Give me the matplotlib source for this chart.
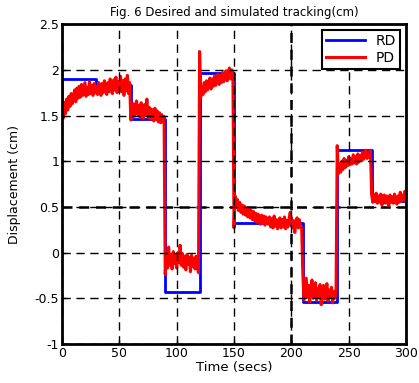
import numpy as np
import matplotlib
matplotlib.use("Agg")
import matplotlib.pyplot as plt

plt.rcParams['font.family'] = ['DejaVu Sans']

# desired (RD) step reference
rd_t = [0, 30, 60, 90, 120, 150, 210, 240, 270, 300]
rd_y = [1.90, 1.83, 1.46, -0.43, 1.97, 0.32, -0.54, 1.12, 0.56, 0.56]

# simulated (PD) response, one sample per second, t = 0..300
pd_0 = [1.88, 1.47, 1.64, 1.52, 1.68, 1.56, 1.71, 1.60, 1.74, 1.63, 1.70, 1.78, 1.65, 1.80, 1.69,
        1.82, 1.70, 1.84, 1.72, 1.79, 1.86, 1.71, 1.81, 1.73, 1.87, 1.74, 1.83, 1.72, 1.85, 1.75]
pd_30 = [1.82, 1.73, 1.86, 1.76, 1.72, 1.85, 1.75, 1.88, 1.77, 1.73, 1.86, 1.76, 1.90, 1.77, 1.74,
         1.89, 1.78, 1.92, 1.75, 1.87, 1.79, 1.93, 1.76, 1.88, 1.72, 1.90, 1.77, 1.94, 1.74, 1.86]
pd_60 = [1.45, 1.56, 1.63, 1.49, 1.60, 1.66, 1.51, 1.61, 1.48, 1.64, 1.52, 1.47, 1.62, 1.50, 1.68,
         1.48, 1.59, 1.46, 1.57, 1.49, 1.44, 1.58, 1.46, 1.55, 1.43, 1.53, 1.42, 1.51, 1.43, 1.49]
pd_90 = [-0.24, -0.05, -0.17, 0.06, -0.14, -0.02, -0.18, 0.01, -0.12, -0.03, -0.17, 0.00, -0.11, 0.08, -0.14,
         -0.01, -0.16, -0.04, -0.19, -0.02, -0.13, -0.05, -0.21, -0.03, -0.15, -0.06, -0.18, -0.04, -0.14, -0.22]
pd_120 = [2.20, 1.70, 1.82, 1.73, 1.86, 1.76, 1.88, 1.78, 1.87, 1.91, 1.79, 1.90, 1.82, 1.93, 1.83,
          1.92, 1.95, 1.84, 1.94, 1.86, 1.97, 1.87, 1.96, 1.99, 1.88, 1.98, 2.02, 1.90, 2.00, 1.98]
pd_150 = [0.27, 0.62, 0.50, 0.58, 0.46, 0.55, 0.44, 0.52, 0.42, 0.51, 0.41, 0.49, 0.39, 0.48, 0.38,
          0.46, 0.36, 0.45, 0.35, 0.43, 0.33, 0.42, 0.34, 0.31, 0.41, 0.32, 0.40, 0.30, 0.39, 0.33]
pd_180 = [0.31, 0.39, 0.28, 0.37, 0.27, 0.40, 0.29, 0.36, 0.26, 0.35, 0.38, 0.27, 0.36, 0.28, 0.39,
          0.26, 0.35, 0.28, 0.37, 0.44, 0.36, 0.27, 0.35, 0.22, 0.34, 0.38, 0.27, 0.36, 0.28, 0.27]
pd_210 = [-0.22, -0.52, -0.40, -0.28, -0.49, -0.36, -0.54, -0.38, -0.30, -0.50, -0.43, -0.33, -0.52, -0.39, -0.48,
          -0.35, -0.57, -0.42, -0.36, -0.51, -0.44, -0.34, -0.53, -0.41, -0.49, -0.38, -0.55, -0.43, -0.50, -0.39]
pd_240 = [1.17, 0.86, 0.97, 0.88, 1.00, 0.91, 1.03, 0.93, 1.01, 0.95, 1.05, 0.96, 1.03, 0.97, 1.07,
          0.98, 1.05, 0.97, 1.08, 0.99, 1.06, 1.01, 1.10, 1.02, 1.08, 1.12, 1.03, 1.10, 1.04, 1.12]
pd_270 = [0.64, 0.55, 0.63, 0.56, 0.65, 0.54, 0.62, 0.55, 0.64, 0.52, 0.61, 0.63, 0.54, 0.62, 0.56,
          0.51, 0.63, 0.55, 0.61, 0.54, 0.64, 0.56, 0.53, 0.62, 0.55, 0.66, 0.56, 0.63, 0.57, 0.67, 0.60]

pd_y = pd_0 + pd_30 + pd_60 + pd_90 + pd_120 + pd_150 + pd_180 + pd_210 + pd_240 + pd_270
pd_t = np.arange(len(pd_y))

fig = plt.figure(figsize=(4.19, 3.83), dpi=100)
ax = fig.add_axes([0.148, 0.102, 0.821, 0.835])

ax.step(rd_t, rd_y, where='post', color='#0000ff', lw=2, label='RD')
ax.plot(pd_t, pd_y, color='#ff0000', lw=2.2, label='PD')

ax.set_xlim(0, 300)
ax.set_ylim(-1, 2.5)
ax.set_xticks(np.arange(0, 301, 50))
ax.set_yticks(np.arange(-1, 2.51, 0.5))
ax.set_yticklabels(['-1', '-0.5', '0', '0.5', '1', '1.5', '2', '2.5'])

ax.grid(True, color='black', linestyle=(0, (6, 4)), lw=1.0)
ax.set_axisbelow(False)
# the two heavier grid lines in the original
ax.axvline(200, color='black', linestyle=(0, (4, 2.7)), lw=1.8, zorder=0.5)
ax.axhline(0.5, color='black', linestyle=(0, (4, 2.7)), lw=1.8, zorder=0.5)

for s in ax.spines.values():
    s.set_linewidth(2)
ax.tick_params(direction='in', length=3, width=1, labelsize=9, pad=2)

ax.set_title('Fig. 6 Desired and simulated tracking(cm)', fontsize=8.5, pad=6)
ax.set_xlabel('Time (secs)', fontsize=9.5, labelpad=1)
ax.set_ylabel('Displacement (cm)', fontsize=9, labelpad=10)

leg = ax.legend(loc='upper right', fontsize=10, fancybox=False, framealpha=1,
                borderaxespad=0.4, handlelength=2.8, borderpad=0.3, labelspacing=0.2)
leg.get_frame().set_edgecolor('black')
leg.get_frame().set_linewidth(1.5)

fig.savefig('out.png', dpi=100)
